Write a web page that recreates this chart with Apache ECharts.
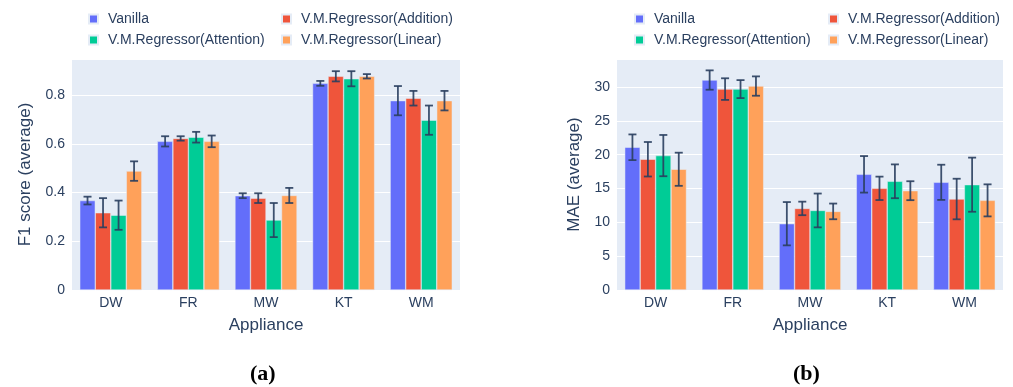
<!DOCTYPE html>
<html>
<head>
<meta charset="utf-8">
<script src="https://cdn.jsdelivr.net/npm/echarts@6/dist/echarts.min.js"></script>
<style>
html,body{margin:0;padding:0;background:#fff;}
#chart{width:1013px;height:387px;}
</style>
</head>
<body>
<div id="chart"></div>
<script>
// ---- data ----
const categories = ['DW', 'FR', 'MW', 'KT', 'WM'];
const seriesNames = ['Vanilla', 'V.M.Regressor(Addition)', 'V.M.Regressor(Attention)', 'V.M.Regressor(Linear)'];
const colors = ['#636EFA', '#EF553B', '#00CC96', '#FFA15A'];

// (a) F1 score (average)
const f1Vanilla = [0.367, 0.610, 0.387, 0.848, 0.777];
const f1Addition = [0.317, 0.622, 0.377, 0.877, 0.787];
const f1Attention = [0.307, 0.627, 0.287, 0.867, 0.697];
const f1Linear = [0.488, 0.610, 0.388, 0.877, 0.777];
const f1ErrVanilla = [0.016, 0.021, 0.010, 0.010, 0.060];
const f1ErrAddition = [0.060, 0.009, 0.020, 0.021, 0.030];
const f1ErrAttention = [0.060, 0.022, 0.070, 0.031, 0.060];
const f1ErrLinear = [0.040, 0.024, 0.031, 0.009, 0.040];

// (b) MAE (average)
const maeVanilla = [21.1, 31.04, 9.8, 17.1, 15.92];
const maeAddition = [19.33, 29.7, 12.06, 15.03, 13.45];
const maeAttention = [19.87, 29.7, 11.76, 16.07, 15.57];
const maeLinear = [17.85, 30.15, 11.62, 14.68, 13.25];
const maeErrVanilla = [1.9, 1.43, 3.2, 2.7, 2.6];
const maeErrAddition = [2.55, 1.6, 1.0, 1.73, 3.0];
const maeErrAttention = [3.05, 1.33, 2.5, 2.5, 4.0];
const maeErrLinear = [2.45, 1.43, 1.16, 1.4, 2.37];

const f1Ticks = [0, 0.2, 0.4, 0.6, 0.8];
const maeTicks = [0, 5, 10, 15, 20, 25, 30];

// ---- build ----
const f1Vals = [f1Vanilla, f1Addition, f1Attention, f1Linear];
const f1Errs = [f1ErrVanilla, f1ErrAddition, f1ErrAttention, f1ErrLinear];
const maeVals = [maeVanilla, maeAddition, maeAttention, maeLinear];
const maeErrs = [maeErrVanilla, maeErrAddition, maeErrAttention, maeErrLinear];

const FONT = '"Liberation Sans", Arial, sans-serif';
const TXT = '#2a3f5f';
const NB = 4;
const GROUP_FRAC = 0.8;

const series = [];
function addPanel(gi, vals, errs) {
  for (let s = 0; s < NB; s++) {
    series.push({
      type: 'bar', name: seriesNames[s], xAxisIndex: gi, yAxisIndex: gi,
      data: vals[s], barGap: '0%', barCategoryGap: '20%',
      itemStyle: { color: colors[s], borderColor: '#E5ECF6', borderWidth: 0.5 },
      emphasis: { disabled: true }, animation: false
    });
  }
  for (let s = 0; s < NB; s++) {
    const data = vals[s].map((v, i) => [i, v - errs[s][i], v + errs[s][i]]);
    series.push({
      type: 'custom', xAxisIndex: gi, yAxisIndex: gi, z: 10, animation: false,
      silent: true,
      data: data,
      renderItem: (params, api) => {
        const c = api.value(0);
        const lo = api.coord([c, api.value(1)]);
        const hi = api.coord([c, api.value(2)]);
        const band = api.size([1, 0])[0];
        const bw = band * GROUP_FRAC / NB;
        const x = lo[0] + (s - (NB - 1) / 2) * bw;
        const cap = 4;
        const st = { stroke: '#2a3f5f', lineWidth: 1.8, opacity: 0.9 };
        return { type: 'group', children: [
          { type: 'line', shape: { x1: x, y1: lo[1], x2: x, y2: hi[1] }, style: st },
          { type: 'line', shape: { x1: x - cap, y1: lo[1], x2: x + cap, y2: lo[1] }, style: st },
          { type: 'line', shape: { x1: x - cap, y1: hi[1], x2: x + cap, y2: hi[1] }, style: st }
        ]};
      }
    });
  }
}
addPanel(0, f1Vals, f1Errs);
addPanel(1, maeVals, maeErrs);

function xAxis(gi) {
  return {
    type: 'category', gridIndex: gi, data: categories,
    axisLine: { show: false }, axisTick: { show: false },
    axisLabel: { color: TXT, fontSize: 14, fontFamily: FONT, margin: 6 },
    name: 'Appliance', nameLocation: 'middle', nameGap: 27,
    nameTextStyle: { color: TXT, fontSize: 17, fontFamily: FONT }
  };
}
function yAxis(gi, max, interval, ticks, name, gap) {
  return {
    type: 'value', gridIndex: gi, min: 0, max: max, interval: interval,
    axisLine: { show: false }, axisTick: { show: false },
    splitLine: { show: true, lineStyle: { color: '#ffffff', width: 1 } },
    axisLabel: {
      color: TXT, fontSize: 14, fontFamily: FONT, margin: 7,
      showMaxLabel: false,
      formatter: v => {
        const t = ticks.find(k => Math.abs(k - v) < 1e-9);
        return t === undefined ? '' : String(t);
      }
    },
    name: name, nameLocation: 'middle', nameGap: gap,
    nameTextStyle: { color: TXT, fontSize: 17, fontFamily: FONT }
  };
}

function legendItem(name, left, top) {
  return {
    left: left, top: top, orient: 'horizontal', data: [name],
    icon: 'rect', itemWidth: 9, itemHeight: 9, itemGap: 0,
    padding: 0,
    textStyle: { color: TXT, fontSize: 14, fontFamily: FONT, padding: [0, 0, 0, 5] },
    selectedMode: false
  };
}
const legends = [
  legendItem(seriesNames[0], 88, 12), legendItem(seriesNames[1], 281, 12),
  legendItem(seriesNames[2], 88, 33), legendItem(seriesNames[3], 281, 33),
  legendItem(seriesNames[0], 634, 12), legendItem(seriesNames[1], 828, 12),
  legendItem(seriesNames[2], 634, 33), legendItem(seriesNames[3], 828, 33)
];

const option = {
  animation: false,
  backgroundColor: '#ffffff',
  textStyle: { fontFamily: FONT },
  legend: legends,
  grid: [
    { left: 72, right: 553, top: 59, bottom: 97, show: true, backgroundColor: '#E5ECF6', borderWidth: 0, containLabel: false },
    { left: 617, right: 10, top: 59, bottom: 97, show: true, backgroundColor: '#E5ECF6', borderWidth: 0, containLabel: false }
  ],
  xAxis: [xAxis(0), xAxis(1)],
  yAxis: [
    yAxis(0, 0.948, 0.2, f1Ticks, 'F1 score (average)', 38),
    yAxis(1, 34.15, 5, maeTicks, 'MAE (average)', 34)
  ],
  series: series,
  graphic: [
    { type: 'text', left: 250, top: 363, style: { text: '(a)', font: 'bold 22px "Liberation Serif", "DejaVu Serif", serif', fill: '#000' } },
    { type: 'text', left: 793, top: 363, style: { text: '(b)', font: 'bold 22px "Liberation Serif", "DejaVu Serif", serif', fill: '#000' } }
  ]
};

const chart = echarts.init(document.getElementById('chart'), null, { renderer: 'canvas' });
chart.setOption(option);
</script>
</body>
</html>
